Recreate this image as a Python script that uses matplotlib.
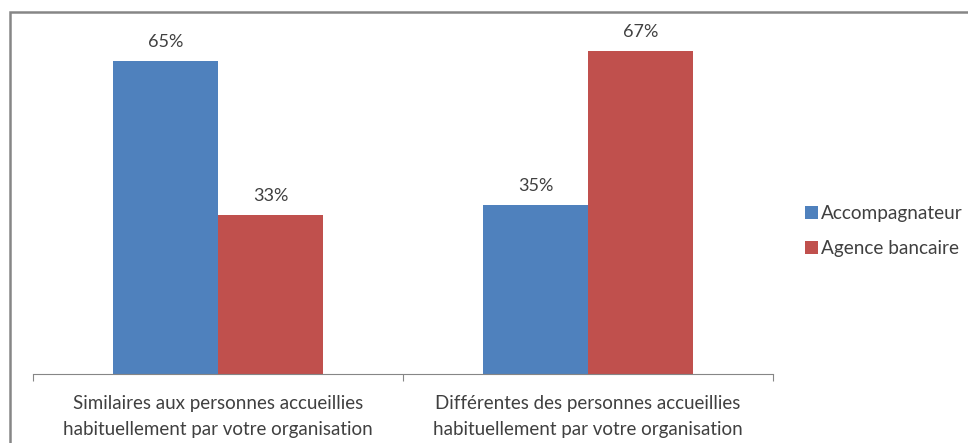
import matplotlib.pyplot as plt
from matplotlib.patches import Rectangle
import numpy as np

categories = ["Similaires aux personnes accueillies\nhabituellement par votre organisation",
              "Différentes des personnes accueillies\nhabituellement par votre organisation"]
accompagnateur = [0.65, 0.35]
agence = [0.33, 0.67]
series_names = ["Accompagnateur", "Agence bancaire"]

plt.rcParams['font.family'] = ['Lato', 'DejaVu Sans']
text_color = '#404040'

fig = plt.figure(figsize=(9.68, 4.43), dpi=100)
ax = fig.add_axes([33 / 968, 69 / 443, 740 / 968, 340 / 443])

x = np.arange(len(categories))
w = 0.2838
b1 = ax.bar(x - w / 2, accompagnateur, w, color='#4F81BD', label=series_names[0])
b2 = ax.bar(x + w / 2, agence, w, color='#C0504D', label=series_names[1])

for bars, vals in ((b1, accompagnateur), (b2, agence)):
    for r, v in zip(bars, vals):
        ax.annotate(f"{v:.0%}", (r.get_x() + r.get_width() / 2, v),
                    xytext=(0, 8), textcoords='offset points',
                    ha='center', va='bottom', fontsize=13, color=text_color)

ax.set_xlim(-0.5, 1.5)
ax.set_ylim(0, 0.706)
for s in ('top', 'right', 'left'):
    ax.spines[s].set_visible(False)
ax.spines['bottom'].set_color('#868686')
ax.set_yticks([])
ax.set_xticks([-0.5, 0.5, 1.5])
ax.set_xticklabels([])
ax.tick_params(axis='x', which='major', length=5, color='#868686', direction='out')
ax.set_xticks(x, minor=True)
ax.set_xticklabels(categories, minor=True, fontsize=13.5, color=text_color, linespacing=1.62)
ax.tick_params(axis='x', which='minor', length=0, pad=15)

ax.legend(loc='center left', bbox_to_anchor=(788 / 968, 212 / 443), bbox_transform=fig.transFigure,
          frameon=False, fontsize=13.7, handlelength=0.68, handleheight=0.68, handletextpad=0.15,
          labelspacing=0.95, labelcolor=text_color)

# outer chart frame
fig.add_artist(Rectangle((10 / 968, -0.1), 1.2, (443 - 12) / 443 + 0.1, transform=fig.transFigure,
                         fill=False, edgecolor='#868686', linewidth=1.8))

fig.savefig("out.png", dpi=100)
